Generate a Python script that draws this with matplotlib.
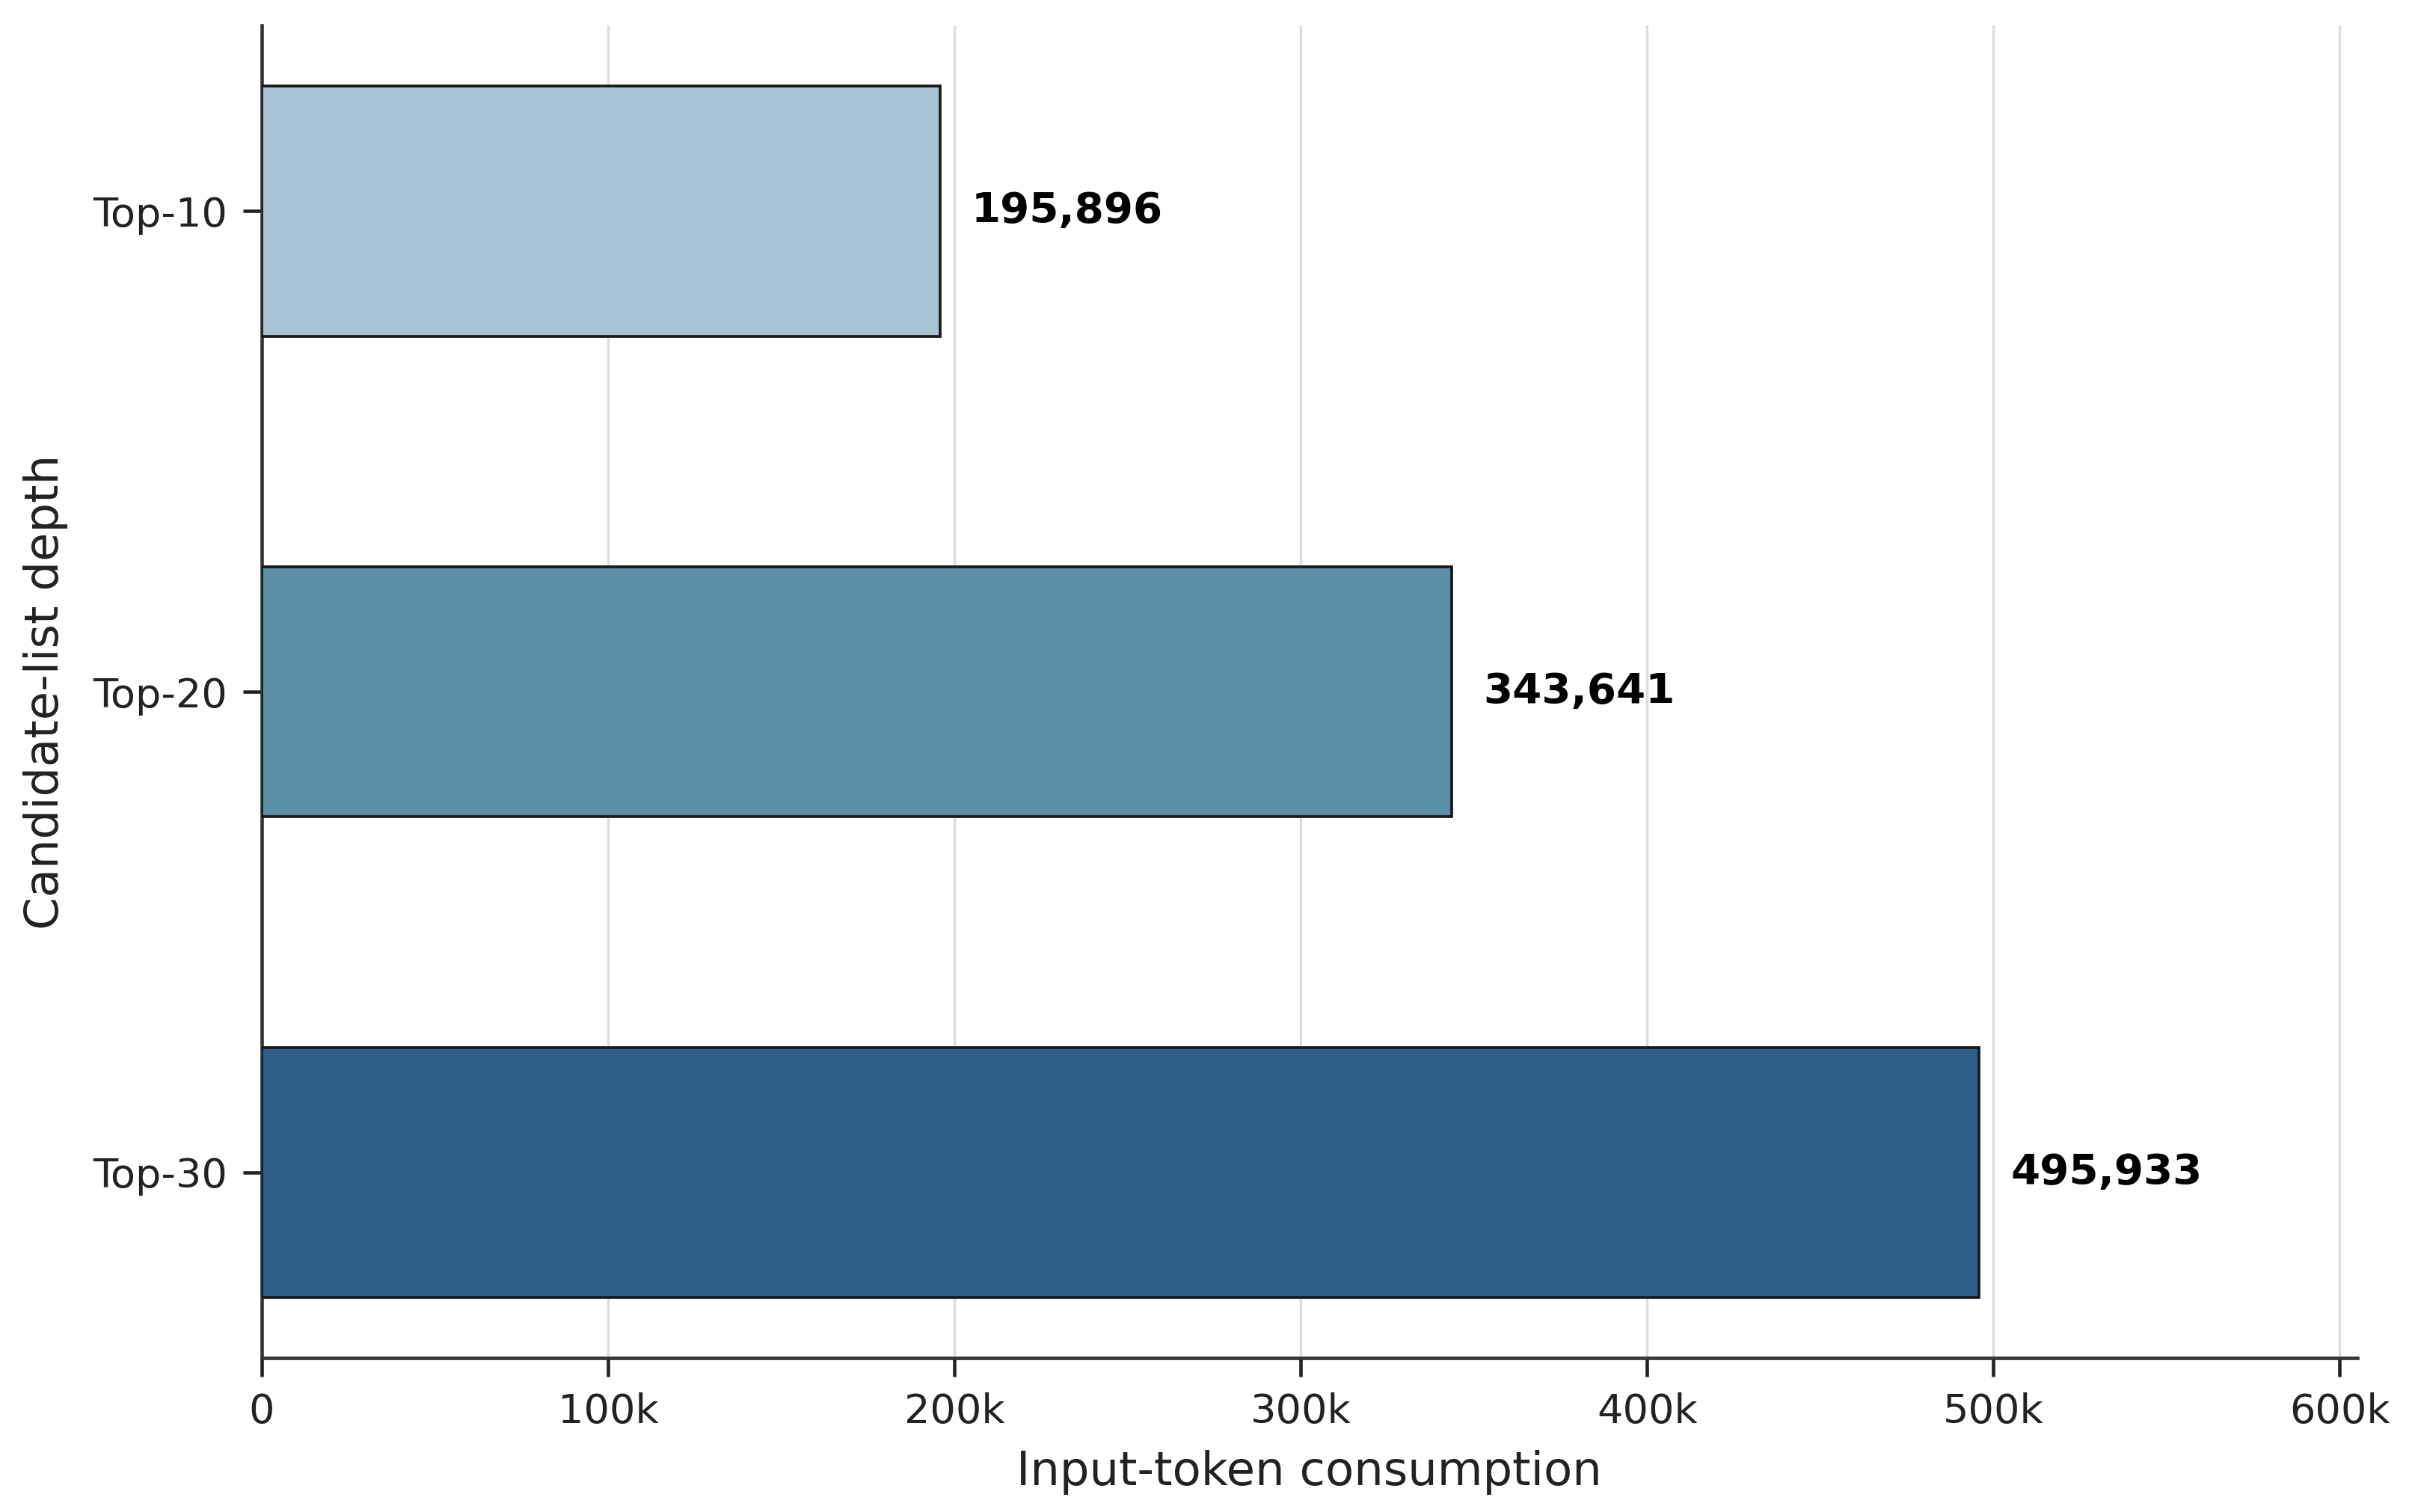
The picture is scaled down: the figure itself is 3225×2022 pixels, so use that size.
import matplotlib
matplotlib.use('Agg')
import numpy as np
import matplotlib.pyplot as plt
from matplotlib.ticker import FuncFormatter

categories = ['Top-10', 'Top-20', 'Top-30']
tokens = [195896, 343641, 495933]
colors = ['#a9c4d2', '#5b8fa8', '#2d5f8a']

plt.rcParams['font.family'] = 'DejaVu Sans'


def kfmt(v, pos):
    if v == 0:
        return '0'
    return '%dk' % int(round(v / 1000))


def plot():
    fig = plt.figure(figsize=(10.753, 6.74), dpi=300)
    ax = fig.add_axes([0.1085, 0.102, 0.8685, 0.881])
    y = np.arange(len(categories))
    ax.barh(y, tokens, height=0.52, color=colors, edgecolor='#1a1a1a', linewidth=0.9, zorder=3)
    ax.set_yticks(y)
    ax.set_yticklabels(categories, fontsize=13, color='#222222')
    ax.invert_yaxis()
    ax.set_xlim(0, max(tokens) * 1.22)
    ax.xaxis.set_major_formatter(FuncFormatter(kfmt))
    ax.tick_params(axis='x', labelsize=13, colors='#222222', length=6, width=1.1, pad=5)
    ax.tick_params(axis='y', length=6, width=1.1, colors='#222222', pad=5)
    for v, yi in zip(tokens, y):
        ax.annotate('{:,}'.format(v), xy=(v, yi), xytext=(10, 0), textcoords='offset points',
                    ha='left', va='center', fontsize=13.5, fontweight='bold', color='black')
    ax.set_xlabel('Input-token consumption', fontsize=15, color='#222222', labelpad=6)
    ax.set_ylabel('Candidate-list depth', fontsize=15, color='#222222', labelpad=8)
    ax.grid(axis='x', color='#dddddd', linewidth=0.8, zorder=0)
    ax.set_axisbelow(True)
    for s in ['top', 'right']:
        ax.spines[s].set_visible(False)
    for s in ['left', 'bottom']:
        ax.spines[s].set_linewidth(1.1)
        ax.spines[s].set_color('#333333')
    fig.savefig('out.png', dpi=300)


if __name__ == '__main__':
    plot()
